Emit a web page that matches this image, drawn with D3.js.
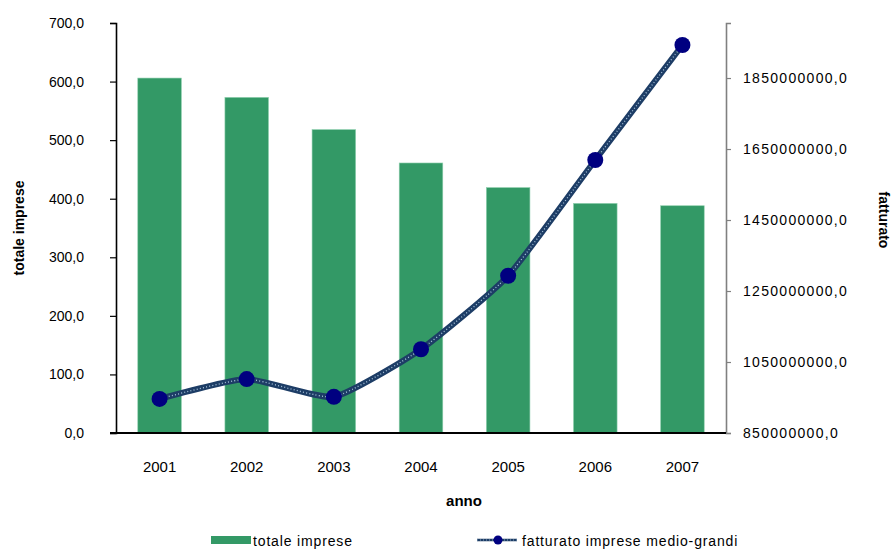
<!DOCTYPE html>
<html>
<head>
<meta charset="utf-8">
<script src="https://cdn.jsdelivr.net/npm/d3@7"></script>
<style>
  html, body { margin: 0; padding: 0; background: #fff; }
  svg { display: block; font-family: "Liberation Sans", Arial, sans-serif; }
</style>
</head>
<body>
<svg id="chart" width="891" height="549"></svg>
<script>
const years = ["2001", "2002", "2003", "2004", "2005", "2006", "2007"];
const totaleImprese = [606, 573, 518, 461, 419, 392, 388];
const fatturato = [946e6, 1002e6, 952e6, 1086e6, 1293e6, 1619e6, 1943e6];
const leftTicks = [0, 100, 200, 300, 400, 500, 600, 700];
const rightTicks = [850e6, 1050e6, 1250e6, 1450e6, 1650e6, 1850e6];

const svg = d3.select("#chart");
const m = { left: 116, right: 726, top: 23, bottom: 433 };

const x = d3.scaleBand().domain(years).range([m.left, m.right]).paddingInner(0.5).paddingOuter(0.25);
const xc = d => x(d) + x.bandwidth() / 2;
const yL = d3.scaleLinear().domain([0, 700]).range([m.bottom, m.top]);
const yR = d3.scaleLinear().domain([850e6, 2005e6]).range([m.bottom, m.top]);

const fmt = v => d3.format(".1f")(v).replace(".", ",");
const FF = "'Liberation Sans', Arial, sans-serif";

// bars
svg.append("g").selectAll("rect").data(years).join("rect")
  .attr("x", d => x(d))
  .attr("width", x.bandwidth())
  .attr("y", (d, i) => yL(totaleImprese[i]))
  .attr("height", (d, i) => yL(0) - yL(totaleImprese[i]))
  .attr("fill", "#339966")
  .attr("stroke", "#8fcfae")
  .attr("stroke-width", 0.6);

// left axis
const gL = svg.append("g").attr("transform", `translate(${m.left},0)`)
  .call(d3.axisLeft(yL).tickValues(leftTicks).tickFormat(fmt).tickSize(6).tickPadding(26));
gL.select(".domain").attr("stroke", "#000").attr("stroke-width", 1.6);
gL.selectAll(".tick line").attr("stroke", "#000").attr("stroke-width", 1.2);
gL.selectAll("text").attr("font-size", 14).attr("fill", "#000").attr("font-family", FF);

// right axis
const gR = svg.append("g").attr("transform", `translate(${m.right},0)`)
  .call(d3.axisRight(yR).tickValues(rightTicks).tickFormat(fmt).tickSize(5).tickPadding(12));
gR.select(".domain").attr("stroke", "#808080").attr("stroke-width", 1.6);
gR.selectAll(".tick line").attr("stroke", "#808080").attr("stroke-width", 1.2);
gR.selectAll("text").attr("font-size", 14).attr("fill", "#000").attr("letter-spacing", 1.3).attr("font-family", FF);

// bottom axis
const gB = svg.append("g").attr("transform", `translate(0,${m.bottom})`)
  .call(d3.axisBottom(x).tickSize(0).tickPadding(28));
gB.select(".domain").attr("stroke", "#000").attr("stroke-width", 1.8)
  .attr("d", `M${m.left - 6},0H${m.right}`);
gB.selectAll("text").attr("font-size", 15).attr("fill", "#000").attr("font-family", FF);

// line
const line = d3.line().x((d, i) => xc(years[i])).y(d => yR(d)).curve(d3.curveCardinal.tension(0.5));
svg.append("path").datum(fatturato).attr("d", line)
  .attr("fill", "none").attr("stroke", "#1d3d66").attr("stroke-width", 6);
svg.append("path").datum(fatturato).attr("d", line)
  .attr("fill", "none").attr("stroke", "#a9c4dc").attr("stroke-width", 1.3)
  .attr("stroke-dasharray", "1,2.2");
svg.append("g").selectAll("circle").data(fatturato).join("circle")
  .attr("cx", (d, i) => xc(years[i])).attr("cy", d => yR(d)).attr("r", 8)
  .attr("fill", "#000080");

// axis titles
svg.append("text").attr("transform", `translate(24,228) rotate(-90)`)
  .attr("text-anchor", "middle").attr("font-size", 14).attr("font-weight", "bold").text("totale imprese");
svg.append("text").attr("transform", `translate(879,220) rotate(90)`)
  .attr("text-anchor", "middle").attr("font-size", 14).attr("font-weight", "bold").text("fatturato");
svg.append("text").attr("x", 464).attr("y", 506)
  .attr("text-anchor", "middle").attr("font-size", 15).attr("font-weight", "bold").text("anno");

// legend
const lg = svg.append("g");
lg.append("rect").attr("x", 211).attr("y", 536).attr("width", 40).attr("height", 8).attr("fill", "#339966");
lg.append("text").attr("x", 253).attr("y", 546).attr("font-size", 14).attr("letter-spacing", 0.85).text("totale imprese");
lg.append("line").attr("x1", 477).attr("x2", 517).attr("y1", 540).attr("y2", 540)
  .attr("stroke", "#1d3d66").attr("stroke-width", 2.5);
lg.append("line").attr("x1", 477).attr("x2", 517).attr("y1", 540).attr("y2", 540)
  .attr("stroke", "#a9c4dc").attr("stroke-width", 0.8).attr("stroke-dasharray", "1,2");
lg.append("circle").attr("cx", 498).attr("cy", 540).attr("r", 4.5).attr("fill", "#000080");
lg.append("text").attr("x", 522).attr("y", 546).attr("font-size", 14).attr("letter-spacing", 0.85).text("fatturato imprese medio-grandi");
</script>
</body>
</html>
